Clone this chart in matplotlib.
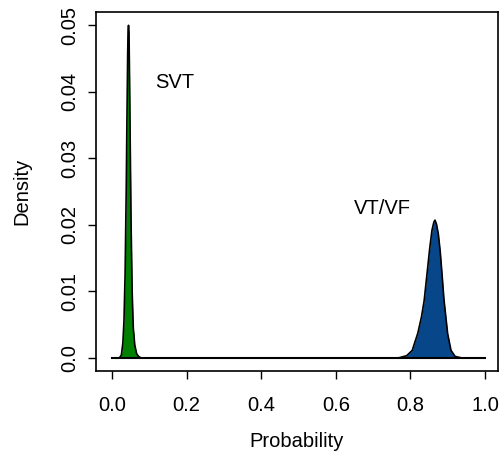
import numpy as np
import matplotlib.pyplot as plt

plt.rcParams['font.family'] = ['Liberation Sans', 'DejaVu Sans']

# SVT density curve
svt_x = [0.020, 0.025, 0.029, 0.032, 0.035, 0.038, 0.040, 0.042, 0.0430, 0.0442,
         0.0455, 0.047, 0.049, 0.051, 0.054, 0.057, 0.061, 0.066, 0.071, 0.077]
svt_y = [0.0000, 0.0004, 0.0022, 0.0055, 0.0125, 0.0250, 0.0360, 0.0460, 0.0493, 0.0500,
         0.0490, 0.0420, 0.0310, 0.0205, 0.0098, 0.0045, 0.0019, 0.0006, 0.0002, 0.0000]

# VT/VF density curve
vt_x = [0.770, 0.790, 0.805, 0.820, 0.830, 0.837, 0.845, 0.852, 0.858, 0.863, 0.866,
        0.870, 0.875, 0.880, 0.885, 0.890, 0.900, 0.909, 0.920, 0.935]
vt_y = [0.0000, 0.0003, 0.0011, 0.0037, 0.0062, 0.0086, 0.0128, 0.0165, 0.0192, 0.0204, 0.0207,
        0.0201, 0.0186, 0.0160, 0.0125, 0.0088, 0.0036, 0.0011, 0.0002, 0.0000]

xticks = [0.0, 0.2, 0.4, 0.6, 0.8, 1.0]
xtick_labels = ['0.0', '0.2', '0.4', '0.6', '0.8', '1.0']
yticks = [0.0, 0.01, 0.02, 0.03, 0.04, 0.05]
ytick_labels = ['0.0', '0.01', '0.02', '0.03', '0.04', '0.05']

fig = plt.figure(figsize=(5.02, 4.55), dpi=100)
ax = fig.add_axes([96 / 502, 1 - 371 / 455, 402 / 502, 359 / 455])

ax.plot([0, 1], [0, 0], color='black', lw=1.5)
ax.fill_between(svt_x, svt_y, color='#008000', lw=0)
ax.plot(svt_x, svt_y, color='black', lw=1.2)
ax.fill_between(vt_x, vt_y, color='#08468a', lw=0)
ax.plot(vt_x, vt_y, color='black', lw=1.2)

ax.text(0.169, 0.0414, 'SVT', fontsize=14.5, va='center', ha='center')
ax.text(0.726, 0.0224, 'VT/VF', fontsize=14.5, va='center', ha='center')

ax.set_xlim(-0.043, 1.035)
ax.set_ylim(-0.002, 0.052)
ax.set_xticks(xticks)
ax.set_xticklabels(xtick_labels)
ax.set_yticks(yticks)
ax.set_yticklabels(ytick_labels, rotation=90, va='center')
ax.tick_params(axis='x', direction='out', length=6, width=1, pad=12, labelsize=14.5)
ax.tick_params(axis='y', direction='out', length=6, width=1, pad=6, labelsize=14.5)
for s in ax.spines.values():
    s.set_linewidth(1.2)

ax.set_xlabel('Probability', fontsize=14.5, labelpad=12)
ax.set_ylabel('Density', fontsize=14.5, labelpad=21)

fig.savefig('out.png', dpi=100)
